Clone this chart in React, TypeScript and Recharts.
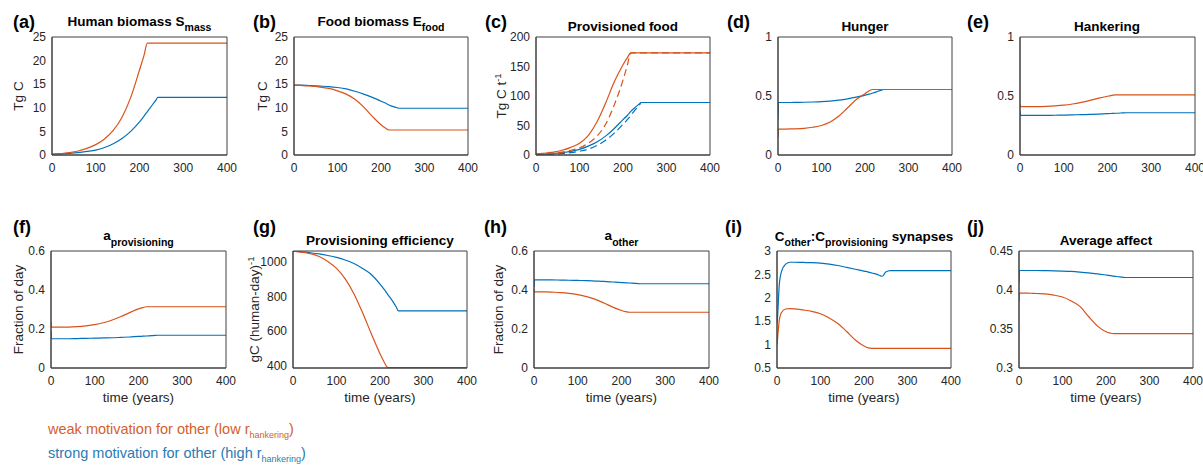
import React from 'react';
import { LineChart, Line, XAxis, YAxis } from 'recharts';

const ORANGE = '#D95319';
const BLUE = '#0072BD';
const AXIS = '#404040';
const INK = '#262626';
const FONT = '"Liberation Sans", Arial, Helvetica, sans-serif';

// model output sampled at these years
const years = [0, 1, 5, 10, 20, 30, 40, 60, 80, 100, 120, 140, 160, 180, 200, 210, 218, 230, 238, 242, 250, 260, 300, 400];
const xTicks = [0, 100, 200, 300, 400];

// (a) human biomass S_mass, Tg C
const massWeak = [0.2, 0.2, 0.21, 0.23, 0.3, 0.38, 0.5, 0.85, 1.4, 2.2, 3.4, 5.2, 8.0, 12.2, 18.0, 21.0, 23.7, 23.7, 23.7, 23.7, 23.7, 23.7, 23.7, 23.7];
const massStrong = [0.2, 0.2, 0.21, 0.22, 0.25, 0.3, 0.35, 0.5, 0.75, 1.05, 1.6, 2.4, 3.5, 5.0, 7.0, 8.2, 9.2, 10.7, 11.7, 12.2, 12.2, 12.2, 12.2, 12.2];

// (b) food biomass E_food, Tg C
const foodWeak = [14.8, 14.8, 14.8, 14.8, 14.7, 14.65, 14.6, 14.4, 14.1, 13.6, 12.9, 11.8, 10.2, 8.2, 6.4, 5.7, 5.3, 5.3, 5.3, 5.3, 5.3, 5.3, 5.3, 5.3];
const foodStrong = [14.8, 14.8, 14.8, 14.8, 14.8, 14.75, 14.7, 14.6, 14.5, 14.3, 14.0, 13.5, 12.9, 12.2, 11.4, 11.0, 10.6, 10.2, 10.0, 9.9, 9.9, 9.9, 9.9, 9.9];

// (c) provisioned food, Tg C / t (solid) and lagged (dashed)
const provWeak = [2, 2, 2.2, 2.5, 3, 4, 5, 8, 13, 20, 33, 56, 88, 124, 153, 165, 173, 173, 173, 173, 173, 173, 173, 173];
const provWeakLag = [1, 1, 1.1, 1.3, 2, 2.5, 3, 5, 8, 12, 20, 32, 52, 85, 127, 152, 173, 173, 173, 173, 173, 173, 173, 173];
const provStrong = [1, 1, 1.1, 1.2, 1.5, 2, 2.5, 4, 6, 9.5, 15, 22, 32, 45, 60, 67, 74, 82, 87, 89, 89, 89, 89, 89];
const provStrongLag = [0.5, 0.5, 0.6, 0.7, 1, 1.2, 1.5, 2.5, 4, 6.5, 10, 16, 25, 37, 52, 60, 67, 78, 85, 89, 89, 89, 89, 89];

// (d) hunger
const hungerWeak = [0.15, 0.22, 0.22, 0.22, 0.22, 0.221, 0.222, 0.226, 0.235, 0.25, 0.28, 0.33, 0.4, 0.47, 0.52, 0.545, 0.555, 0.555, 0.555, 0.555, 0.555, 0.555, 0.555, 0.555];
const hungerStrong = [0.3, 0.445, 0.445, 0.445, 0.445, 0.445, 0.446, 0.447, 0.449, 0.452, 0.457, 0.465, 0.476, 0.49, 0.507, 0.516, 0.525, 0.54, 0.55, 0.555, 0.555, 0.555, 0.555, 0.555];

// (e) hankering
const hankWeak = [0.43, 0.41, 0.41, 0.41, 0.41, 0.41, 0.41, 0.412, 0.416, 0.422, 0.432, 0.446, 0.463, 0.482, 0.498, 0.505, 0.51, 0.51, 0.51, 0.51, 0.51, 0.51, 0.51, 0.51];
const hankStrong = [0.37, 0.335, 0.335, 0.335, 0.335, 0.335, 0.335, 0.336, 0.337, 0.338, 0.34, 0.342, 0.344, 0.347, 0.35, 0.352, 0.354, 0.356, 0.357, 0.358, 0.358, 0.358, 0.358, 0.358];

// (f) a_provisioning, fraction of day
const aProvWeak = [0.235, 0.21, 0.21, 0.21, 0.21, 0.21, 0.21, 0.212, 0.216, 0.222, 0.232, 0.246, 0.264, 0.284, 0.303, 0.31, 0.314, 0.314, 0.314, 0.314, 0.314, 0.314, 0.314, 0.314];
const aProvStrong = [0.19, 0.15, 0.15, 0.15, 0.15, 0.15, 0.15, 0.151, 0.152, 0.153, 0.154, 0.155, 0.157, 0.159, 0.162, 0.163, 0.164, 0.166, 0.167, 0.168, 0.168, 0.168, 0.168, 0.168];

// (g) provisioning efficiency, gC per human-day
const effWeak = [1057, 1057, 1057, 1056, 1054, 1050, 1045, 1028, 1000, 960, 900, 815, 705, 585, 470, 420, 390, 390, 390, 390, 390, 390, 390, 390];
const effStrong = [1057, 1057, 1057, 1057, 1055, 1053, 1050, 1043, 1034, 1023, 1008, 988, 960, 925, 870, 838, 810, 768, 735, 716, 716, 716, 716, 716];

// (h) a_other, fraction of day
const aOtherWeak = [0.405, 0.39, 0.39, 0.39, 0.39, 0.39, 0.389, 0.387, 0.383, 0.376, 0.366, 0.352, 0.333, 0.312, 0.295, 0.289, 0.286, 0.286, 0.286, 0.286, 0.286, 0.286, 0.286, 0.286];
const aOtherStrong = [0.415, 0.452, 0.452, 0.452, 0.452, 0.452, 0.452, 0.451, 0.45, 0.449, 0.448, 0.446, 0.444, 0.441, 0.438, 0.437, 0.436, 0.434, 0.433, 0.432, 0.432, 0.432, 0.432, 0.432];

// (i) C_other : C_provisioning synapses
const synWeak = [1.0, 1.1, 1.5, 1.68, 1.76, 1.77, 1.765, 1.74, 1.71, 1.66, 1.57, 1.45, 1.28, 1.1, 0.97, 0.93, 0.92, 0.92, 0.92, 0.92, 0.92, 0.92, 0.92, 0.92];
const synStrong = [1.45, 1.55, 2.25, 2.55, 2.72, 2.76, 2.76, 2.755, 2.75, 2.74, 2.72, 2.69, 2.65, 2.61, 2.57, 2.55, 2.53, 2.5, 2.47, 2.46, 2.55, 2.58, 2.58, 2.58];

// (j) average affect
const affectWeak = [0.385, 0.396, 0.396, 0.396, 0.396, 0.3958, 0.3955, 0.395, 0.3935, 0.391, 0.386, 0.379, 0.366, 0.354, 0.3465, 0.3448, 0.344, 0.344, 0.344, 0.344, 0.344, 0.344, 0.344, 0.344];
const affectStrong = [0.41, 0.425, 0.425, 0.425, 0.425, 0.425, 0.425, 0.4248, 0.4246, 0.4243, 0.4238, 0.423, 0.422, 0.4207, 0.4192, 0.4184, 0.4177, 0.417, 0.4164, 0.416, 0.416, 0.416, 0.416, 0.416];

const ticks25 = [0, 5, 10, 15, 20, 25];
const ticks200 = [0, 50, 100, 150, 200];
const ticksUnit = [0, 0.5, 1];
const ticksDay = [0, 0.2, 0.4, 0.6];
const ticksEff = [400, 600, 800, 1000];
const ticksSyn = [0.5, 1, 1.5, 2, 2.5, 3];
const ticksAffect = [0.3, 0.35, 0.4, 0.45];

const panelTags = ['(a)', '(b)', '(c)', '(d)', '(e)', '(f)', '(g)', '(h)', '(i)', '(j)'];
const xLabel = 'time (years)';
const legendWeak = ['weak motivation for other (low r', 'hankering', ')'];
const legendStrong = ['strong motivation for other (high r', 'hankering', ')'];

const rows = (cols: Record<string, number[]>) =>
  years.map((t, i) => {
    const r: Record<string, number> = { t };
    Object.keys(cols).forEach((k) => {
      r[k] = cols[k][i];
    });
    return r;
  });

type Series = { key: string; color: string; dash?: string };
const pair: Series[] = [
  { key: 's', color: BLUE },
  { key: 'w', color: ORANGE },
];

const panels = [
  { left: 52, top: 37, w: 175, h: 118, domain: [0, 25], ticks: ticks25, lines: pair, data: rows({ w: massWeak, s: massStrong }) },
  { left: 294, top: 37, w: 174, h: 118, domain: [0, 25], ticks: ticks25, lines: pair, data: rows({ w: foodWeak, s: foodStrong }) },
  {
    left: 536, top: 37, w: 174, h: 118, domain: [0, 200], ticks: ticks200,
    lines: [
      { key: 's', color: BLUE },
      { key: 'sl', color: BLUE, dash: '7 4' },
      { key: 'w', color: ORANGE },
      { key: 'wl', color: ORANGE, dash: '7 4' },
    ],
    data: rows({ w: provWeak, wl: provWeakLag, s: provStrong, sl: provStrongLag }),
  },
  { left: 778, top: 37, w: 174, h: 118, domain: [0, 1], ticks: ticksUnit, lines: pair, data: rows({ w: hungerWeak, s: hungerStrong }) },
  { left: 1020, top: 37, w: 175, h: 118, domain: [0, 1], ticks: ticksUnit, lines: pair, data: rows({ w: hankWeak, s: hankStrong }) },
  { left: 51, top: 251, w: 175, h: 117, domain: [0, 0.6], ticks: ticksDay, lines: pair, data: rows({ w: aProvWeak, s: aProvStrong }) },
  { left: 293, top: 251, w: 174, h: 117, domain: [388, 1060], ticks: ticksEff, lines: pair, data: rows({ w: effWeak, s: effStrong }) },
  { left: 534, top: 251, w: 175, h: 117, domain: [0, 0.6], ticks: ticksDay, lines: pair, data: rows({ w: aOtherWeak, s: aOtherStrong }) },
  { left: 777, top: 251, w: 174, h: 117, domain: [0.5, 3], ticks: ticksSyn, lines: pair, data: rows({ w: synWeak, s: synStrong }) },
  { left: 1019, top: 251, w: 174, h: 117, domain: [0.3, 0.45], ticks: ticksAffect, lines: pair, data: rows({ w: affectWeak, s: affectStrong }) },
];

const tickStyle = { fill: INK, fontSize: 12, fontFamily: FONT };

const Panel = ({ left, top, w, h, domain, ticks, lines, data }: any) => (
  <div style={{ position: 'absolute', left: left - 44, top: top - 10 }}>
    <LineChart width={w + 60} height={h + 40} data={data} margin={{ top: 10, right: 16, bottom: 0, left: 4 }}>
      <XAxis xAxisId="x" dataKey="t" type="number" domain={[0, 400]} ticks={xTicks} allowDataOverflow height={30}
        stroke={AXIS} tickLine={false} tickSize={0} tickMargin={8} tick={tickStyle} interval={0} />
      <XAxis xAxisId="xb" dataKey="t" type="number" domain={[0, 400]} ticks={xTicks} allowDataOverflow mirror
        tick={false} tickSize={3} stroke={AXIS} interval={0} />
      <XAxis xAxisId="xt" dataKey="t" type="number" orientation="top" domain={[0, 400]} ticks={xTicks} allowDataOverflow mirror
        tick={false} tickSize={3} stroke={AXIS} interval={0} />
      <YAxis yAxisId="y" type="number" domain={domain} ticks={ticks} allowDataOverflow width={40}
        stroke={AXIS} tickLine={false} tickSize={0} tickMargin={6} tick={tickStyle} interval={0} />
      <YAxis yAxisId="yl" type="number" domain={domain} ticks={ticks} allowDataOverflow mirror
        tick={false} tickSize={3} stroke={AXIS} interval={0} />
      <YAxis yAxisId="yr" type="number" orientation="right" domain={domain} ticks={ticks} allowDataOverflow mirror
        tick={false} tickSize={3} stroke={AXIS} interval={0} />
      {lines.map((l: Series) => (
        <Line key={l.key} xAxisId="x" yAxisId="y" type="monotone" dataKey={l.key} stroke={l.color}
          strokeWidth={1.2} strokeDasharray={l.dash} dot={false} isAnimationActive={false} />
      ))}
    </LineChart>
  </div>
);

const tagPos = [
  [13, 28], [253, 28], [485, 28], [727, 28], [967, 28],
  [13, 233], [253, 233], [484, 233], [725, 233], [967, 233],
];

const yLab = (x: number, y: number, children: React.ReactNode) => (
  <text transform={`translate(${x},${y}) rotate(-90)`} textAnchor="middle" fontSize={13.5}>
    {children}
  </text>
);

const Overlay = () => (
  <svg width={1203} height={465} style={{ position: 'absolute', left: 0, top: 0 }} fontFamily={FONT} fill={INK}>
    {panelTags.map((t, i) => (
      <text key={t} x={tagPos[i][0]} y={tagPos[i][1]} fontSize={18} fontWeight="bold" fill="#000">{t}</text>
    ))}
    <g fontWeight="bold" fontSize={13.5} textAnchor="middle" fill="#000">
      <text x={139.5} y={26}>Human biomass S<tspan dy={5} fontSize={10.5}>mass</tspan></text>
      <text x={381} y={26}>Food biomass E<tspan dy={5} fontSize={10.5}>food</tspan></text>
      <text x={623} y={31}>Provisioned food</text>
      <text x={865} y={31}>Hunger</text>
      <text x={1107} y={31}>Hankering</text>
      <text x={138.5} y={240}>a<tspan dy={6} fontSize={10.5}>provisioning</tspan></text>
      <text x={380} y={245}>Provisioning efficiency</text>
      <text x={621.5} y={240}>a<tspan dy={6} fontSize={10.5}>other</tspan></text>
      <text x={864} y={241}>
        C<tspan dy={5} fontSize={10.5}>other</tspan><tspan dy={-5}>:C</tspan>
        <tspan dy={5} fontSize={10.5}>provisioning</tspan><tspan dy={-5}> synapses</tspan>
      </text>
      <text x={1106} y={245}>Average affect</text>
    </g>
    {yLab(23, 96, 'Tg C')}
    {yLab(267, 96, 'Tg C')}
    {yLab(506, 96, <>Tg C t<tspan dy={-5} fontSize={9.5}>-1</tspan></>)}
    {yLab(23, 309.5, 'Fraction of day')}
    {yLab(259, 309.5, <>gC (human-day)<tspan dy={-5} fontSize={9.5}>-1</tspan></>)}
    {yLab(503, 309.5, 'Fraction of day')}
    {[138.5, 380, 621.5, 864, 1106].map((cx) => (
      <text key={cx} x={cx} y={402} textAnchor="middle" fontSize={13.5}>{xLabel}</text>
    ))}
    <text x={48} y={434} fontSize={14.5} fill="#D4602B">
      {legendWeak[0]}<tspan dy={4} fontSize={9}>{legendWeak[1]}</tspan><tspan dy={-4}>{legendWeak[2]}</tspan>
    </text>
    <text x={48} y={458} fontSize={14.5} fill="#2B7AB3">
      {legendStrong[0]}<tspan dy={4} fontSize={9}>{legendStrong[1]}</tspan><tspan dy={-4}>{legendStrong[2]}</tspan>
    </text>
  </svg>
);

export default function App() {
  return (
    <div style={{ position: 'absolute', left: 0, top: 0, width: 1203, height: 465, background: '#fff', fontFamily: FONT }}>
      {panels.map((p, i) => (
        <Panel key={i} {...p} />
      ))}
      <Overlay />
    </div>
  );
}
